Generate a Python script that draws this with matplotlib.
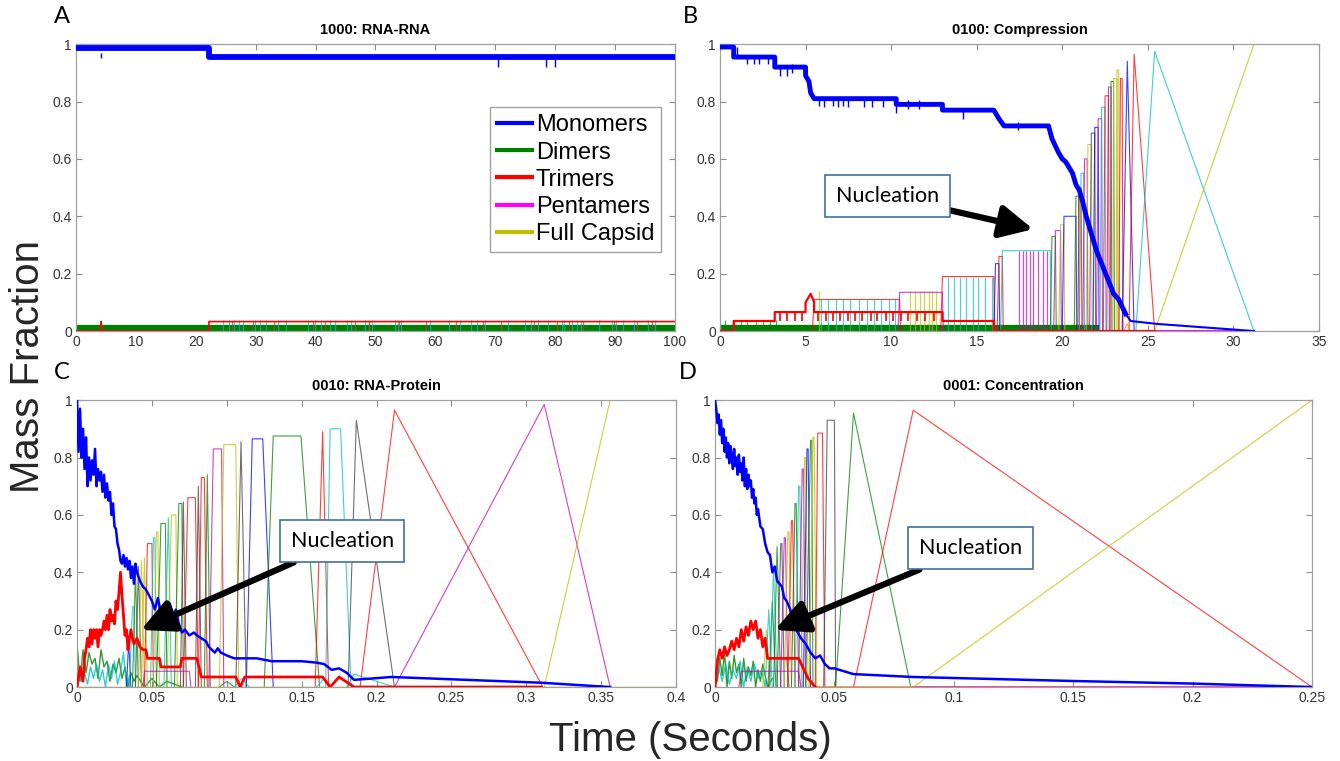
import matplotlib
matplotlib.use("Agg")
import matplotlib.pyplot as plt
from matplotlib.lines import Line2D

plt.rcParams['font.family'] = ['Liberation Sans', 'DejaVu Sans']

# matlab style colour letters
COL = {"b": (0, 0, 1), "g": (0, 0.5, 0), "r": (1, 0, 0), "c": (0, 0.75, 0.75),
       "m": (0.75, 0, 0.75), "y": (0.75, 0.75, 0), "k": (0.25, 0.25, 0.25),
       "o": (1, 0.5, 0), "p": (1, 0, 1), "n": (0.6, 0.3, 0.25)}

titles = ["1000: RNA-RNA", "0100: Compression", "0010: RNA-Protein", "0001: Concentration"]
letters = ["A", "B", "C", "D"]
legend_names = ["Monomers", "Dimers", "Trimers", "Pentamers", "Full Capsid"]
legend_cols = ["b", "g", "r", "p", "y"]

# ---------------- panel A ----------------
a_mono_t = [0, 22.2, 22.2, 100]
a_mono_y = [0.985, 0.985, 0.955, 0.955]
a_dip_t = [4.2, 70.5, 78.5, 80.0]
a_dip_y = [0.968, 0.922, 0.922, 0.922]
a_dimer_t = [0, 100]
a_dimer_y = [0.01, 0.01]
a_trimer_t = [0, 4.1, 4.2, 4.3, 22.2, 22.2, 100]
a_trimer_y = [0, 0, 0.033, 0, 0, 0.033, 0.033]
a_cyan_t = [24.6, 25.6, 26.4, 27.3, 27.9, 29.9, 30.8, 31.7, 33.7, 35.1, 38.8, 39.9, 40.9,
            42.4, 43.3, 45.3, 45.9, 48.2, 48.9, 49.5, 53.3, 53.8, 54.3, 59.1, 62.3, 64.1,
            65.9, 67.0, 68.3, 72.1, 75.0, 75.9, 77.2, 78.8, 81.2, 81.5, 82.8, 83.7, 84.3,
            87.3, 89.5, 90.2, 91.3, 93.1, 95.5, 96.7]
a_brown_t = [26.0, 29.5, 33.0, 39.5, 41.5, 46.5, 49.0, 54.0, 58.5, 63.5, 68.0, 71.0, 76.5,
             80.3, 82.3, 84.7, 89.8, 93.6, 96.2]

# ---------------- panel B ----------------
b_mono_t = [0, 0.8, 0.8, 3.2, 3.2, 5.0, 5.0, 5.2, 5.3, 5.5, 10.3, 10.3, 13.0, 13.0, 16.0,
            16.3, 16.6, 19.2, 19.4, 19.6, 19.8, 20.0, 20.2, 20.4, 20.6, 20.8, 21.0, 21.2,
            21.4, 21.6, 21.8, 22.0, 22.2, 22.4, 22.6, 22.8, 23.0, 23.3, 23.7]
b_mono_y = [0.99, 0.99, 0.955, 0.955, 0.92, 0.92, 0.89, 0.87, 0.83, 0.81, 0.81, 0.79, 0.79,
            0.77, 0.77, 0.74, 0.715, 0.715, 0.67, 0.645, 0.62, 0.6, 0.59, 0.57, 0.55, 0.51,
            0.49, 0.45, 0.40, 0.36, 0.32, 0.28, 0.25, 0.22, 0.19, 0.16, 0.13, 0.11, 0.06]
b_tail_t = [23.7, 24.0, 25.5, 31.2]
b_tail_y = [0.06, 0.035, 0.025, 0.0]
b_dip_t = [1.0, 1.6, 2.0, 2.3, 2.8, 3.5, 3.9, 4.2, 5.8, 6.1, 6.6, 6.9, 7.2, 7.5, 8.4, 8.9,
           9.5, 10.3, 11.0, 11.6, 14.2, 17.4]
b_dip_y = [0.96, 0.93, 0.93, 0.93, 0.93, 0.89, 0.89, 0.9, 0.785, 0.78, 0.785, 0.78, 0.785,
           0.78, 0.78, 0.78, 0.78, 0.76, 0.775, 0.775, 0.74, 0.7]
b_dimer_t = [0, 22.0]
b_dimer_y = [0.01, 0.01]
b_trimer_t = [0, 0.8, 0.8, 3.2, 3.2, 5.0, 5.0, 5.3, 5.5, 5.5, 13.0, 13.0, 16.0, 16.0, 25.4]
b_trimer_y = [0, 0, 0.035, 0.035, 0.066, 0.066, 0.1, 0.13, 0.1, 0.066, 0.066, 0.035, 0.035, 0, 0]
b_trimer_dip_t = [3.5, 3.9, 4.4, 4.8, 5.7, 6.2, 6.6, 7.0, 7.5, 7.9, 8.3, 8.8, 9.2, 9.7, 10.1,
                  10.6, 11.0, 11.5, 12.0, 12.5]
# (rise start, top start, top end, fall end, height, colour)
b_peaks = [(5.4, 5.5, 10.5, 10.55, 0.11, "r"), (10.4, 10.5, 13.0, 13.05, 0.135, "m"),
           (12.9, 13.0, 16.0, 16.05, 0.19, "r"), (16.0, 16.1, 16.3, 16.35, 0.235, "b"),
           (16.2, 16.3, 16.5, 16.55, 0.26, "r"), (16.4, 16.5, 19.3, 19.35, 0.28, "c"),
           (19.3, 19.4, 19.6, 19.65, 0.33, "g"), (19.5, 19.6, 19.9, 19.95, 0.35, "m"),
           (19.8, 19.9, 20.1, 20.15, 0.37, "y"), (20.0, 20.1, 20.8, 20.85, 0.40, "b"),
           (20.7, 20.8, 20.95, 21.0, 0.47, "g"), (20.9, 21.0, 21.1, 21.15, 0.50, "r"),
           (21.0, 21.1, 21.25, 21.3, 0.55, "c"), (21.2, 21.3, 21.45, 21.5, 0.60, "m"),
           (21.4, 21.5, 21.7, 21.75, 0.65, "y"), (21.6, 21.7, 21.9, 21.95, 0.69, "k"),
           (21.8, 21.9, 22.1, 22.15, 0.71, "b"), (22.0, 22.1, 22.3, 22.35, 0.74, "m"),
           (22.2, 22.3, 22.5, 22.55, 0.78, "c"), (22.4, 22.5, 22.7, 22.75, 0.82, "r"),
           (22.6, 22.7, 22.85, 22.9, 0.85, "m"), (22.8, 22.85, 23.0, 23.05, 0.87, "g"),
           (22.95, 23.0, 23.2, 23.25, 0.88, "y"), (23.15, 23.2, 23.3, 23.35, 0.91, "y"),
           (23.3, 23.4, 23.5, 23.55, 0.88, "r"), (23.5, 23.8, 23.8, 24.2, 0.94, "b"),
           (23.9, 24.2, 24.2, 25.4, 0.965, "r"), (24.3, 25.4, 25.4, 31.2, 0.975, "c"),
           (23.6, 23.8, 23.8, 24.0, 0.025, "o")]
b_capsid_t = [25.4, 31.2]
b_capsid_y = [0, 1.0]
b_spk_cyan_lo = [5.9, 6.3, 6.8, 7.2, 7.6, 8.1, 8.6, 9.0, 9.4, 9.9, 10.2]
b_spk_yellow = [5.8, 11.1, 11.4, 11.7, 11.9, 12.2, 12.4, 12.6]
b_spk_cyan_hi = [13.3, 13.7, 14.0, 14.4, 14.8, 15.1, 15.5, 15.9]
b_spk_mag = [17.5, 17.7, 17.9, 18.1, 18.3, 18.6, 18.9, 19.1]
b_spk_green = [0.3, 0.8, 1.2, 1.6, 2.1, 2.5, 2.9, 3.3]

# ---------------- panel C ----------------
c_mono_t = [0, 0.001, 0.002, 0.003, 0.004, 0.005, 0.006, 0.007, 0.008, 0.009, 0.010, 0.011,
            0.012, 0.013, 0.014, 0.015, 0.016, 0.017, 0.018, 0.019, 0.020, 0.021, 0.022,
            0.023, 0.024, 0.025, 0.026, 0.027, 0.028, 0.029, 0.030, 0.031, 0.032, 0.033,
            0.034, 0.035, 0.036, 0.037, 0.038, 0.039, 0.040, 0.042, 0.044, 0.046, 0.048,
            0.050, 0.052, 0.054, 0.056, 0.058, 0.060, 0.062, 0.064, 0.066, 0.068, 0.070,
            0.072, 0.075, 0.078, 0.080, 0.083, 0.086, 0.088, 0.090, 0.092, 0.094, 0.096,
            0.100, 0.105, 0.110, 0.115, 0.120, 0.130, 0.150, 0.160, 0.165, 0.170, 0.175,
            0.180, 0.185, 0.210, 0.310, 0.356]
c_mono_y = [1.0, 0.82, 0.97, 0.8, 0.9, 0.76, 0.87, 0.7, 0.8, 0.72, 0.79, 0.74, 0.83, 0.7,
            0.76, 0.72, 0.75, 0.68, 0.74, 0.66, 0.71, 0.65, 0.68, 0.6, 0.64, 0.56, 0.55, 0.5,
            0.48, 0.44, 0.43, 0.46, 0.42, 0.45, 0.41, 0.44, 0.38, 0.42, 0.36, 0.43, 0.4,
            0.37, 0.35, 0.34, 0.32, 0.30, 0.27, 0.31, 0.26, 0.28, 0.25, 0.29, 0.23, 0.27,
            0.22, 0.19, 0.20, 0.18, 0.19, 0.18, 0.17, 0.16, 0.14, 0.13, 0.12, 0.135, 0.12,
            0.11, 0.10, 0.10, 0.10, 0.10, 0.09, 0.09, 0.085, 0.08, 0.06, 0.065, 0.05, 0.025,
            0.035, 0.015, 0.0]
c_trimer_t = [0, 0.002, 0.004, 0.005, 0.006, 0.007, 0.008, 0.009, 0.010, 0.011, 0.012,
              0.013, 0.014, 0.015, 0.016, 0.017, 0.018, 0.019, 0.020, 0.021, 0.022, 0.023,
              0.024, 0.025, 0.026, 0.027, 0.028, 0.029, 0.030, 0.031, 0.032, 0.033, 0.034,
              0.035, 0.036, 0.037, 0.038, 0.040, 0.042, 0.044, 0.046, 0.047, 0.048, 0.055,
              0.056, 0.069, 0.070, 0.080, 0.083, 0.106, 0.109, 0.112, 0.164, 0.169, 0.175,
              0.185, 0.31]
c_trimer_y = [0, 0.07, 0.02, 0.1, 0.13, 0.17, 0.14, 0.2, 0.15, 0.2, 0.17, 0.2, 0.14, 0.2,
              0.18, 0.2, 0.23, 0.2, 0.25, 0.2, 0.27, 0.23, 0.25, 0.22, 0.3, 0.27, 0.33, 0.4,
              0.32, 0.25, 0.18, 0.2, 0.13, 0.17, 0.2, 0.17, 0.15, 0.17, 0.14, 0.13, 0.13,
              0.1, 0.1, 0.1, 0.07, 0.07, 0.1, 0.1, 0.035, 0.035, 0.0, 0.035, 0.035, 0.0,
              0.035, 0.0, 0.0]
c_green_t = [0, 0.002, 0.004, 0.006, 0.008, 0.010, 0.012, 0.014, 0.016, 0.018, 0.020,
             0.022, 0.024, 0.026, 0.028, 0.030, 0.032, 0.034, 0.036, 0.038, 0.040, 0.045,
             0.050, 0.055, 0.060, 0.070]
c_green_y = [0.15, 0.02, 0.13, 0.05, 0.12, 0.08, 0.1, 0.03, 0.13, 0.07, 0.09, 0.02, 0.08,
             0.05, 0.1, 0.03, 0.07, 0.0, 0.05, 0.02, 0.04, 0.0, 0.03, 0.0, 0.02, 0.0]
c_cyan_t = [0, 0.001, 0.003, 0.005, 0.007, 0.009, 0.011, 0.013, 0.015, 0.017, 0.019, 0.021,
            0.023, 0.025, 0.027, 0.029, 0.031, 0.033, 0.035]
c_cyan_y = [0.0, 0.06, 0.02, 0.05, 0.01, 0.07, 0.03, 0.08, 0.02, 0.06, 0.0, 0.08, 0.03,
            0.09, 0.01, 0.05, 0.12, 0.0, 0.04]
c_peaks = [(0.033, 0.0345, 0.0345, 0.036, 0.16, "b"), (0.035, 0.037, 0.038, 0.039, 0.28, "c"),
           (0.037, 0.039, 0.039, 0.041, 0.40, "g"), (0.039, 0.041, 0.041, 0.043, 0.42, "k"),
           (0.041, 0.043, 0.043, 0.045, 0.44, "y"), (0.043, 0.045, 0.045, 0.047, 0.45, "y"),
           (0.045, 0.047, 0.050, 0.051, 0.50, "r"), (0.049, 0.051, 0.052, 0.053, 0.52, "c"),
           (0.051, 0.053, 0.054, 0.055, 0.54, "y"), (0.053, 0.056, 0.059, 0.060, 0.57, "g"),
           (0.058, 0.061, 0.061, 0.063, 0.59, "c"), (0.060, 0.063, 0.066, 0.067, 0.60, "y"),
           (0.065, 0.068, 0.070, 0.071, 0.64, "g"), (0.069, 0.071, 0.071, 0.073, 0.645, "k"),
           (0.071, 0.074, 0.079, 0.081, 0.66, "r"), (0.079, 0.081, 0.081, 0.083, 0.70, "k"),
           (0.081, 0.083, 0.085, 0.087, 0.73, "r"), (0.085, 0.087, 0.087, 0.089, 0.74, "g"),
           (0.088, 0.091, 0.0965, 0.098, 0.83, "m"), (0.095, 0.098, 0.106, 0.108, 0.845, "y"),
           (0.106, 0.1095, 0.1095, 0.113, 0.855, "k"), (0.113, 0.117, 0.124, 0.131, 0.865, "b"),
           (0.125, 0.131, 0.1495, 0.162, 0.875, "g"), (0.159, 0.164, 0.164, 0.168, 0.89, "r"),
           (0.166, 0.169, 0.176, 0.183, 0.90, "c"), (0.181, 0.1865, 0.1865, 0.212, 0.93, "k"),
           (0.189, 0.212, 0.212, 0.311, 0.965, "r"), (0.212, 0.312, 0.312, 0.356, 0.985, "m"),
           (0.044, 0.045, 0.075, 0.076, 0.055, "m"), (0.095, 0.100, 0.100, 0.105, 0.02, "g"),
           (0.105, 0.110, 0.110, 0.115, 0.03, "c"), (0.160, 0.165, 0.165, 0.170, 0.03, "c"),
           (0.180, 0.185, 0.185, 0.212, 0.045, "c")]
c_capsid_t = [0.312, 0.356]
c_capsid_y = [0, 1.0]

# ---------------- panel D ----------------
d_mono_t = [0, 0.0005, 0.001, 0.0015, 0.002, 0.0025, 0.003, 0.0035, 0.004, 0.0045, 0.005,
            0.0055, 0.006, 0.0065, 0.007, 0.0075, 0.008, 0.0085, 0.009, 0.0095, 0.010,
            0.0105, 0.011, 0.0115, 0.012, 0.0125, 0.013, 0.0135, 0.014, 0.0145, 0.015,
            0.0155, 0.016, 0.0165, 0.017, 0.0175, 0.018, 0.019, 0.020, 0.021, 0.022, 0.023,
            0.024, 0.025, 0.026, 0.027, 0.028, 0.029, 0.030, 0.032, 0.034, 0.036, 0.038,
            0.040, 0.042, 0.044, 0.046, 0.048, 0.050, 0.058, 0.083, 0.15, 0.2, 0.25]
d_mono_y = [1.0, 0.97, 0.92, 0.95, 0.88, 0.93, 0.85, 0.9, 0.82, 0.87, 0.8, 0.85, 0.78, 0.84,
            0.8, 0.76, 0.83, 0.77, 0.8, 0.74, 0.81, 0.75, 0.78, 0.72, 0.8, 0.7, 0.76, 0.69,
            0.74, 0.7, 0.72, 0.66, 0.69, 0.64, 0.66, 0.6, 0.62, 0.56, 0.55, 0.5, 0.47, 0.46,
            0.4, 0.42, 0.37, 0.36, 0.35, 0.31, 0.3, 0.26, 0.2, 0.17, 0.15, 0.12, 0.1, 0.11,
            0.08, 0.065, 0.065, 0.045, 0.035, 0.021, 0.012, 0.0]
d_trimer_t = [0, 0.001, 0.002, 0.003, 0.004, 0.005, 0.006, 0.007, 0.008, 0.009, 0.010, 0.011,
              0.012, 0.013, 0.014, 0.015, 0.016, 0.017, 0.018, 0.019, 0.020, 0.021, 0.022,
              0.035, 0.037, 0.039, 0.042]
d_trimer_y = [0, 0.09, 0.13, 0.1, 0.14, 0.11, 0.13, 0.16, 0.13, 0.17, 0.14, 0.2, 0.16, 0.21,
              0.18, 0.23, 0.2, 0.23, 0.17, 0.2, 0.14, 0.17, 0.1, 0.1, 0.065, 0.03, 0.0]
d_green_t = [0, 0.001, 0.002, 0.003, 0.004, 0.005, 0.006, 0.007, 0.008, 0.009, 0.010, 0.011,
             0.012, 0.013, 0.014, 0.015, 0.016, 0.017, 0.018, 0.019, 0.020, 0.022, 0.024]
d_green_y = [0.13, 0.02, 0.1, 0.04, 0.12, 0.0, 0.09, 0.03, 0.11, 0.05, 0.08, 0.0, 0.1, 0.02,
             0.07, 0.04, 0.09, 0.0, 0.06, 0.02, 0.08, 0.0, 0.03]
d_cyan_t = [0, 0.0015, 0.003, 0.0045, 0.006, 0.0075, 0.009, 0.0105, 0.012, 0.0135, 0.015,
            0.0165, 0.018, 0.0195, 0.021]
d_cyan_y = [0.0, 0.07, 0.02, 0.08, 0.01, 0.06, 0.03, 0.09, 0.0, 0.07, 0.02, 0.08, 0.03, 0.06, 0.0]
d_peaks = [(0.020, 0.0215, 0.0215, 0.023, 0.20, "y"), (0.021, 0.0225, 0.0225, 0.024, 0.27, "c"),
           (0.0225, 0.024, 0.024, 0.0255, 0.30, "g"), (0.023, 0.0245, 0.0245, 0.026, 0.42, "c"),
           (0.0245, 0.026, 0.026, 0.0275, 0.49, "g"), (0.026, 0.0275, 0.028, 0.029, 0.50, "k"),
           (0.0275, 0.029, 0.0295, 0.0305, 0.52, "m"), (0.029, 0.0305, 0.031, 0.032, 0.54, "y"),
           (0.0305, 0.032, 0.0325, 0.0335, 0.58, "r"), (0.032, 0.0335, 0.034, 0.035, 0.64, "g"),
           (0.0335, 0.035, 0.0355, 0.0365, 0.70, "c"), (0.035, 0.0365, 0.037, 0.038, 0.76, "m"),
           (0.036, 0.0375, 0.038, 0.039, 0.80, "y"), (0.037, 0.0385, 0.039, 0.040, 0.83, "b"),
           (0.038, 0.040, 0.0405, 0.041, 0.86, "g"), (0.0395, 0.041, 0.0415, 0.0425, 0.87, "y"),
           (0.042, 0.043, 0.045, 0.046, 0.885, "r"), (0.0455, 0.047, 0.050, 0.0505, 0.93, "k"),
           (0.0505, 0.058, 0.058, 0.082, 0.955, "g"), (0.058, 0.083, 0.083, 0.25, 0.965, "r"),
           (0.010, 0.011, 0.035, 0.036, 0.055, "m"), (0.022, 0.023, 0.030, 0.031, 0.10, "n")]
d_capsid_t = [0.083, 0.25]
d_capsid_y = [0, 1.0]

# nucleation callouts: (box x, box y, arrow x, arrow y) in data units
b_note = (9.8, 0.47, 18.3, 0.355)
c_note = (0.177, 0.509, 0.0427, 0.199)
d_note = (0.107, 0.484, 0.0251, 0.199)


def draw_peaks(ax, peaks):
    for t0, t1, t2, t3, h, k in peaks:
        ax.plot([t0, t1, t2, t3], [0, h, h, 0], color=COL[k], lw=0.8, alpha=0.75, zorder=2)


def spikes(ax, xs, lo, hi, k, lw=0.9, alpha=0.7):
    ax.vlines(xs, lo, hi, colors=[COL[k]], lw=lw, alpha=alpha, zorder=2)


def nucleation(ax, note):
    bx, by, ax_, ay = note
    ax.annotate("Nucleation", xy=(ax_, ay), xytext=(bx, by), ha="center", va="center",
                fontsize=15.5, family=["Lato", "DejaVu Sans"], zorder=6,
                bbox=dict(boxstyle="square,pad=0.5", fc="white", ec="#41719c", lw=1.2),
                arrowprops=dict(arrowstyle="-|>,head_length=0.9,head_width=0.45",
                                color="black", lw=4.5, shrinkA=0, shrinkB=0,
                                mutation_scale=22))


def style(ax, xmax, xticks, title):
    ax.set_xlim(0, xmax)
    ax.set_ylim(0, 1)
    ax.set_xticks(xticks)
    ax.set_xticklabels(["%g" % v for v in xticks])
    ax.set_yticks([0, 0.2, 0.4, 0.6, 0.8, 1])
    ax.set_yticklabels(["0", "0.2", "0.4", "0.6", "0.8", "1"])
    ax.tick_params(direction="in", top=True, right=True, length=4, width=0.8,
                   color="#8c8c8c", labelsize=10, labelcolor="#333333", pad=3)
    for s in ax.spines.values():
        s.set_color("#a0a0a0")
        s.set_linewidth(0.9)
    ax.set_title(title, fontsize=10.5, fontweight="bold", pad=7)


fig = plt.figure(figsize=(13.4, 7.61), dpi=100)
axA = fig.add_axes([0.0567, 0.565, 0.447, 0.377])
axB = fig.add_axes([0.5373, 0.565, 0.447, 0.377])
axC = fig.add_axes([0.0575, 0.0972, 0.447, 0.377])
axD = fig.add_axes([0.5336, 0.0972, 0.4455, 0.377])

# A
axA.plot(a_dimer_t, a_dimer_y, color=COL["g"], lw=4.5, zorder=2)
spikes(axA, a_cyan_t, 0, 0.04, "c")
spikes(axA, a_brown_t, 0, 0.035, "n")
axA.plot(a_trimer_t, a_trimer_y, color=COL["r"], lw=1.2, zorder=3)
axA.plot(a_mono_t, a_mono_y, color=COL["b"], lw=4.2, zorder=3)
axA.vlines(a_dip_t, a_dip_y, 0.95, colors=[COL["b"]], lw=1, zorder=3)
style(axA, 100, list(range(0, 101, 10)), titles[0])
handles = [Line2D([], [], color=COL[k], lw=3) for k in legend_cols]
leg = axA.legend(handles, legend_names, loc="upper left", bbox_to_anchor=(0.691, 0.78),
                 fontsize=17, frameon=True, fancybox=False, edgecolor="#8c8c8c",
                 handlelength=1.5, handletextpad=0.15, labelspacing=0.22, borderpad=0.3,
                 borderaxespad=0)
leg.get_frame().set_linewidth(1.0)

# B
axB.plot(b_dimer_t, b_dimer_y, color=COL["g"], lw=4.5, zorder=2)
spikes(axB, b_spk_green, 0, 0.04, "g")
spikes(axB, b_spk_cyan_lo, 0, 0.11, "c")
spikes(axB, b_spk_yellow, 0, 0.14, "y")
spikes(axB, b_spk_cyan_hi, 0, 0.19, "c")
spikes(axB, b_spk_mag, 0, 0.28, "m")
draw_peaks(axB, b_peaks)
axB.plot([16.0, 25.4], [0, 0], color=COL["o"], lw=1.5, zorder=2)
axB.plot([25.4, 31.2], [0, 0], color=COL["p"], lw=1.5, zorder=2)
axB.plot(b_capsid_t, b_capsid_y, color=COL["y"], lw=0.8, alpha=0.75, zorder=2)
axB.plot(b_trimer_t, b_trimer_y, color=COL["r"], lw=1.6, zorder=3)
axB.vlines(b_trimer_dip_t, 0.035, 0.066, colors=[COL["r"]], lw=1.2, zorder=3)
axB.plot(b_mono_t, b_mono_y, color=COL["b"], lw=3.5, zorder=3)
axB.plot(b_tail_t, b_tail_y, color=COL["b"], lw=1.5, zorder=3)
axB.vlines(b_dip_t, b_dip_y, [y + 0.03 for y in b_dip_y], colors=[COL["b"]], lw=1, zorder=3)
style(axB, 35, list(range(0, 36, 5)), titles[1])
nucleation(axB, b_note)

# C
axC.plot(c_green_t, c_green_y, color=COL["g"], lw=1.0, alpha=0.8, zorder=2)
axC.plot(c_cyan_t, c_cyan_y, color=COL["c"], lw=1.0, alpha=0.8, zorder=2)
draw_peaks(axC, c_peaks)
axC.plot(c_capsid_t, c_capsid_y, color=COL["y"], lw=0.8, alpha=0.75, zorder=2)
axC.plot([0, 0.4], [0, 0], color=COL["y"], lw=1.0, zorder=2)
axC.plot(c_trimer_t, c_trimer_y, color=COL["r"], lw=2.0, zorder=3)
axC.plot(c_mono_t, c_mono_y, color=COL["b"], lw=1.8, zorder=3)
style(axC, 0.4, [0, 0.05, 0.1, 0.15, 0.2, 0.25, 0.3, 0.35, 0.4], titles[2])
nucleation(axC, c_note)

# D
axD.plot(d_green_t, d_green_y, color=COL["g"], lw=1.0, alpha=0.8, zorder=2)
axD.plot(d_cyan_t, d_cyan_y, color=COL["c"], lw=1.0, alpha=0.8, zorder=2)
draw_peaks(axD, d_peaks)
axD.plot([0.042, 0.083], [0, 0], color=COL["o"], lw=1.8, zorder=2)
axD.plot([0.083, 0.25], [0, 0], color=(1, 0, 0.5), lw=1.8, zorder=2)
axD.plot(d_capsid_t, d_capsid_y, color=COL["y"], lw=0.8, alpha=0.75, zorder=2)
axD.plot(d_trimer_t, d_trimer_y, color=COL["r"], lw=2.0, zorder=3)
axD.plot(d_mono_t, d_mono_y, color=COL["b"], lw=1.8, zorder=3)
style(axD, 0.25, [0, 0.05, 0.1, 0.15, 0.2, 0.25], titles[3])
nucleation(axD, d_note)

# panel letters and shared labels
for (x, y), s in zip([(0.046, 0.978), (0.515, 0.978), (0.046, 0.511), (0.513, 0.511)], letters):
    fig.text(x, y, s, fontsize=17, family=["Lato", "DejaVu Sans"], ha="center", va="center")
fig.text(0.021, 0.519, "Mass Fraction", rotation=90, fontsize=29, ha="center", va="center",
         color="#262626")
fig.text(0.515, 0.028, "Time (Seconds)", fontsize=29, ha="center", va="center",
         color="#262626")

fig.savefig("out.png", dpi=100)
